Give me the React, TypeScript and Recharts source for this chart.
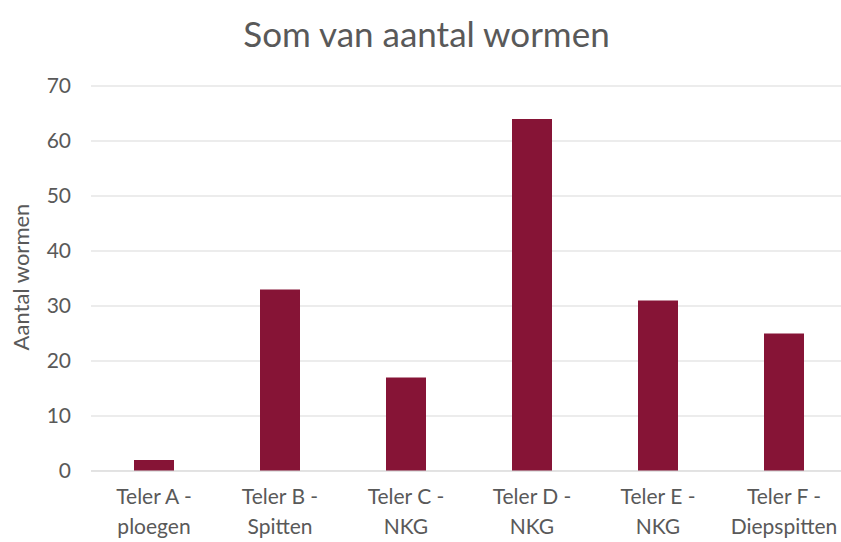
import React from "react";
import { BarChart, Bar, XAxis, YAxis, CartesianGrid } from "recharts";

const categories = [
  "Teler A - ploegen",
  "Teler B - Spitten",
  "Teler C - NKG",
  "Teler D - NKG",
  "Teler E - NKG",
  "Teler F - Diepspitten",
];
const wormCounts = [2, 33, 17, 64, 31, 25];
const yTicks = [0, 10, 20, 30, 40, 50, 60, 70];

const data = categories.map((c, i) => ({ name: c, value: wormCounts[i] }));

const FONT = "Lato, 'Open Sans', sans-serif";
const TEXT = "#595959";

const XTick = (props: any) => {
  const { x, y, payload } = props;
  const s: string = payload.value;
  const idx = s.indexOf("- ");
  const l1 = idx >= 0 ? s.slice(0, idx + 1) : s;
  const l2 = idx >= 0 ? s.slice(idx + 2) : "";
  return (
    <g transform={`translate(${x},${y})`}>
      <text textAnchor="middle" fill={TEXT} fontSize={21} fontFamily={FONT}>
        <tspan x={0} dy={25}>{l1}</tspan>
        <tspan x={0} dy={30}>{l2}</tspan>
      </text>
    </g>
  );
};

export default function App() {
  return (
    <div style={{ position: "absolute", left: 0, top: 0, width: 841, height: 542, overflow: "hidden", background: "#fff" }}>
      <div style={{ position: "absolute", left: 0, top: 12, width: 841, textAlign: "center", fontFamily: FONT, fontSize: 35, color: TEXT, lineHeight: "42px" }}>
        <span style={{ position: "relative", left: 6 }}>Som van aantal wormen</span>
      </div>
      <BarChart
        width={860}
        height={542}
        data={data}
        margin={{ top: 86, right: 13, bottom: 0, left: 0 }}
        barSize={40}
        style={{ position: "absolute", left: 0, top: 0 }}
      >
        <CartesianGrid vertical={false} stroke="#d9d9d9" strokeWidth={1} />
        <XAxis
          dataKey="name"
          tick={<XTick />}
          tickLine={false}
          axisLine={{ stroke: "#d9d9d9", strokeWidth: 1 }}
          interval={0}
          height={71}
        />
        <YAxis
          domain={[0, 70]}
          ticks={yTicks}
          tickLine={false}
          axisLine={false}
          width={91}
          tick={{ fill: TEXT, fontSize: 21, fontFamily: FONT, dx: -12 }}
          interval={0}
        />
        <Bar dataKey="value" fill="#861436" isAnimationActive={false} />
      </BarChart>
      <div
        style={{
          position: "absolute",
          left: 20,
          top: 277,
          transform: "translate(-50%, -50%) rotate(-90deg)",
          whiteSpace: "nowrap",
          fontFamily: FONT,
          fontSize: 22,
          color: TEXT,
        }}
      >
        Aantal wormen
      </div>
    </div>
  );
}
